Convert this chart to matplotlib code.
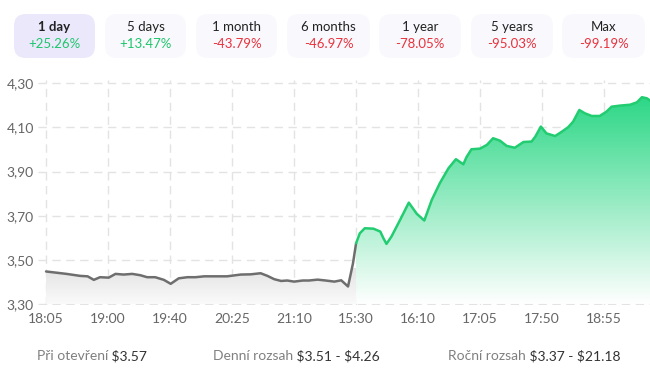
import numpy as np
import matplotlib.pyplot as plt
from matplotlib.colors import LinearSegmentedColormap
from matplotlib.patches import FancyBboxPatch

plt.rcParams['font.family'] = ['Lato', 'DejaVu Sans']

# period tabs
periods = ["1 day", "5 days", "1 month", "6 months", "1 year", "5 years", "Max"]
changes = ["+25.26%", "+13.47%", "-43.79%", "-46.97%", "-78.05%", "-95.03%", "-99.19%"]

# x axis (one tick every 10 samples)
tick_labels = ["18:05", "19:00", "19:40", "20:25", "21:10",
               "15:30", "16:10", "17:05", "17:50", "18:55"]
y_ticks = [3.30, 3.50, 3.70, 3.90, 4.10, 4.30]

# previous session (gray)
t_prev = [0, 3.3, 5.5, 6.7, 7.7, 8.7, 10.1, 11.2, 12.5, 13.9, 15.2, 16.3, 17.6,
          19.0, 20.1, 21.4, 22.8, 24.1, 25.5, 29.2, 31.4, 33.0, 34.6, 35.7, 36.8,
          37.9, 38.9, 40.0, 41.4, 42.4, 43.8, 45.1, 46.5, 47.6, 48.7, 49.5, 50.0]
p_prev = [3.447, 3.436, 3.427, 3.425, 3.409, 3.421, 3.419, 3.436, 3.433, 3.436,
          3.430, 3.421, 3.421, 3.409, 3.391, 3.416, 3.421, 3.421, 3.425, 3.425,
          3.433, 3.434, 3.439, 3.427, 3.412, 3.404, 3.406, 3.401, 3.406, 3.406,
          3.410, 3.406, 3.401, 3.407, 3.379, 3.484, 3.575]

# today (green)
t_today = [50.0, 50.6, 51.4, 52.8, 53.9, 54.4, 54.9, 55.7, 57.1, 58.5, 59.8, 61.0,
           62.2, 63.5, 64.9, 66.1, 67.3, 67.8, 68.6, 70.0, 71.1, 72.1, 73.2, 74.3,
           75.6, 77.0, 78.3, 78.9, 79.8, 80.7, 82.1, 83.2, 84.2, 85.0, 86.0, 86.9,
           88.0, 89.3, 90.4, 91.2, 92.6, 94.2, 95.3, 96.1, 96.9, 97.4]
p_today = [3.575, 3.620, 3.643, 3.641, 3.628, 3.598, 3.572, 3.605, 3.681, 3.759,
           3.708, 3.678, 3.771, 3.847, 3.915, 3.956, 3.933, 3.965, 4.001, 4.004,
           4.021, 4.051, 4.040, 4.016, 4.008, 4.034, 4.036, 4.058, 4.104, 4.073,
           4.061, 4.081, 4.101, 4.126, 4.179, 4.164, 4.152, 4.152, 4.172, 4.194,
           4.199, 4.203, 4.214, 4.237, 4.232, 4.222]

stats = [("Při otevření", "$3.57"), ("Denní rozsah", "$3.51 - $4.26"),
         ("Roční rozsah", "$3.37 - $21.18")]

fig = plt.figure(figsize=(6.5, 3.83), dpi=100)

# overlay in pixel coordinates for the tabs and the footer
bg = fig.add_axes([0, 0, 1, 1])
bg.set_xlim(0, 650)
bg.set_ylim(383, 0)
bg.axis('off')

tab_x = [14, 105, 196, 287, 379, 471, 562]
tab_w = [81, 81, 81, 83, 82, 82, 83]
for i, (name, ch) in enumerate(zip(periods, changes)):
    face = '#ebe8fc' if i == 0 else '#f9f8fd'
    bg.add_patch(FancyBboxPatch((tab_x[i], 14), tab_w[i], 44,
                                boxstyle="round,pad=0,rounding_size=12",
                                fc=face, ec='none'))
    cx = tab_x[i] + tab_w[i] / 2
    bg.text(cx, 27, name, ha='center', va='center', fontsize=9.5,
            color='#222222', fontweight='bold' if i == 0 else 'normal')
    col = '#1ec66c' if ch.startswith('+') else '#e8323c'
    bg.text(cx, 44, ch, ha='center', va='center', fontsize=9.5, color=col)

stat_x = [37, 213, 448]
for x0, (lab, val) in zip(stat_x, stats):
    t = bg.text(x0, 356, lab, ha='left', va='center', fontsize=10,
                color='#808080', parse_math=False)
    bg.annotate(" " + val, xy=(1, 0.5), xycoords=t, ha='left', va='center',
                fontsize=10, color='#333333', parse_math=False)

ax = fig.add_axes([38 / 650, 1 - 305 / 383, 612 / 650, 225 / 383])
ax.set_xlim(-1.3, 97.4)
ax.set_ylim(3.295, 4.315)

# gradient fills clipped to the area under each line
def gradient_fill(t, p, c_top, c_bot, y_top):
    poly = ax.fill_between(t, p, 3.30, color='none', lw=0)
    cmap = LinearSegmentedColormap.from_list('g', [c_bot, c_top])
    grad = np.linspace(0, 1, 256).reshape(-1, 1)
    im = ax.imshow(grad, cmap=cmap, aspect='auto', origin='lower',
                   extent=[t[0], t[-1], 3.30, y_top], zorder=1)
    im.set_clip_path(poly.get_paths()[0], transform=ax.transData)

gradient_fill(t_prev, p_prev, '#e4e4e4', '#fafafa', 3.46)
gradient_fill(t_today, p_today, '#2cd786', '#ffffff', 4.24)

ax.plot(t_prev, p_prev, color='#6e6e6e', lw=1.8, zorder=3,
        solid_joinstyle='round', solid_capstyle='round')
ax.plot(t_today, p_today, color='#22cc70', lw=1.8, zorder=3,
        solid_joinstyle='round', solid_capstyle='round')

ax.set_xticks(np.arange(0, 100, 10))
ax.set_xticklabels(tick_labels)
ax.set_yticks(y_ticks)
ax.set_yticklabels([f"{v:.2f}".replace('.', ',') for v in y_ticks])
ax.tick_params(length=0, labelsize=10, colors='#666666', pad=6)
ax.tick_params(axis='y', pad=3)
ax.grid(True, color='#e3e3e3', lw=1, ls=(0, (6, 4)), zorder=0)
ax.set_axisbelow(True)
for s in ax.spines.values():
    s.set_visible(False)
ax.set_facecolor('none')

fig.savefig('out.png', dpi=100)
